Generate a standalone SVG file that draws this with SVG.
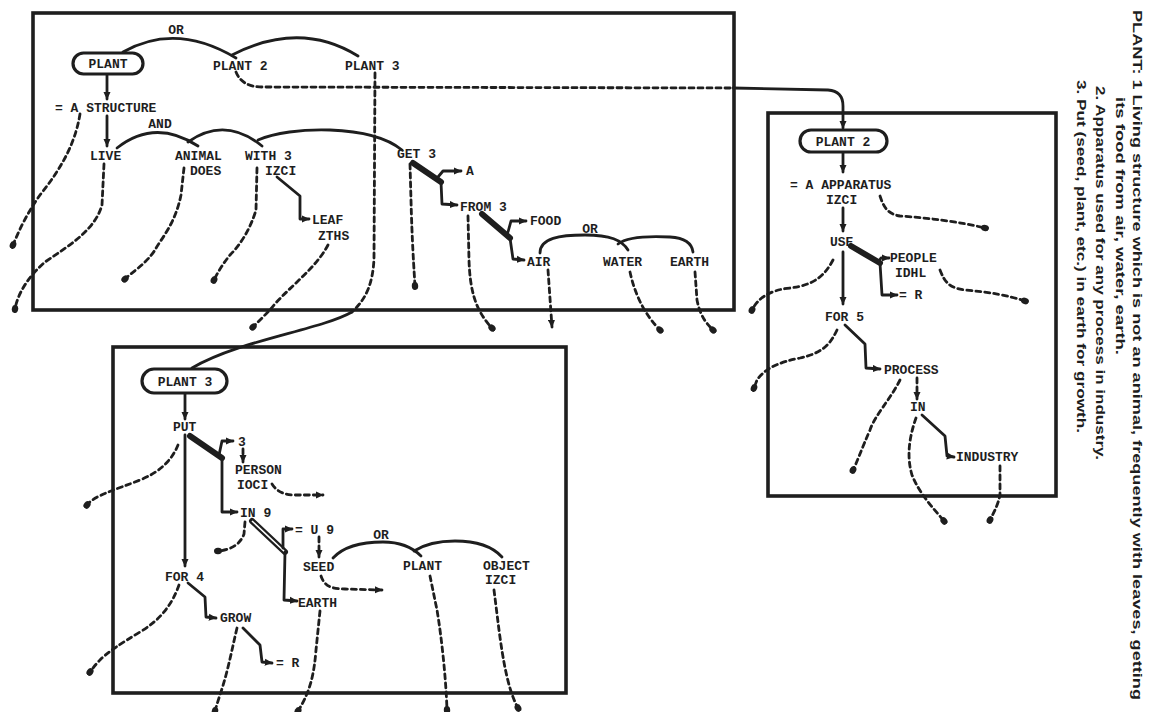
<svg xmlns="http://www.w3.org/2000/svg" width="1156" height="712" viewBox="0 0 1156 712">
<defs>
<style>
.t{font-family:"Liberation Mono","DejaVu Sans Mono",monospace;font-weight:bold;font-size:13px;fill:#1e1e1e}
.m{text-anchor:middle}
.def{font-family:"Liberation Sans","DejaVu Sans",sans-serif;font-weight:bold;font-size:13px;fill:#1e1e1e}
.box{fill:none;stroke:#1e1e1e;stroke-width:3.6}
.ov{fill:#fff;stroke:#1e1e1e;stroke-width:3.2}
.s{fill:none;stroke:#1e1e1e;stroke-width:2.8;stroke-linecap:round;stroke-linejoin:round}
.d{stroke-dasharray:5 4}
.k{stroke-width:6}
.w{fill:none;stroke:#fff;stroke-width:1.6}
</style>
<marker id="ah" viewBox="0 0 10 10" refX="9" refY="5" markerWidth="8" markerHeight="8" markerUnits="userSpaceOnUse" orient="auto"><path d="M0,0.5 L10,5 L0,9.5 Z" fill="#1e1e1e"/></marker>
<marker id="dot" viewBox="0 0 10 10" refX="5" refY="5" markerWidth="8" markerHeight="8" markerUnits="userSpaceOnUse" orient="auto"><ellipse cx="5" cy="5" rx="5" ry="4" fill="#1e1e1e"/></marker>
</defs>
<rect width="1156" height="712" fill="#fff"/>

<g id="frames">
<rect class="box" x="33" y="13" width="701" height="297"/>
<rect class="box" x="113" y="347" width="453" height="346"/>
<rect class="box" x="768" y="113" width="288" height="383"/>
</g>

<g id="connectors">
<!-- plane 1 -->
<path class="s" d="M123,52 Q176,22 236,58"/>
<path class="s" d="M232,55 Q300,20 358,56"/>
<path class="s" d="M107,74 L107,99" marker-end="url(#ah)"/>
<path class="s" d="M107,116 L107,146" marker-end="url(#ah)"/>
<path class="s" d="M117,148 Q155,118 198,146"/>
<path class="s" d="M188,142 Q225,116 262,146"/>
<path class="s" d="M258,140 C290,126 370,124 402,150"/>
<path class="s d" d="M236,72 Q242,87 262,87 L733,88"/>
<path class="s" d="M733,88 L828,90 Q843,91 843,106 L843,128" marker-end="url(#ah)"/>
<path class="s d" d="M375,73 L374,258 C373,285 365,300 352,312"/>
<path class="s" d="M352,312 C320,330 240,340 192,368"/>
<path class="s" d="M277,177 L300,196 L300,219 L309,219" marker-end="url(#ah)"/>
<path class="s d" d="M328,245 C315,270 285,290 270,310 L253,327" marker-end="url(#dot)"/>
<path class="s k" d="M413,163 L441,182"/>
<path class="s" d="M438,177 L443,171 L461,171" marker-end="url(#ah)"/>
<path class="s" d="M441,182 L442,204 L457,205" marker-end="url(#ah)"/>
<path class="s d" d="M410,164 L411,200 C412,240 414,270 415,286" marker-end="url(#dot)"/>
<path class="s k" d="M482,214 L510,238"/>
<path class="s" d="M508,232 L511,221 L526,221" marker-end="url(#ah)"/>
<path class="s" d="M510,238 L513,259 L524,260" marker-end="url(#ah)"/>
<path class="s d" d="M468,216 L469,260 C470,290 475,310 492,328" marker-end="url(#dot)"/>
<path class="s" d="M540,253 C540,238 560,235 585,235 C610,235 622,240 628,250"/>
<path class="s" d="M618,244 C628,236 650,236 670,237 C685,238 692,244 693,252"/>
<path class="s d" d="M548,270 L552,327" marker-end="url(#ah)"/>
<path class="s d" d="M630,272 C635,295 645,315 660,330" marker-end="url(#dot)"/>
<path class="s d" d="M695,272 L697,300 C700,315 705,322 713,330" marker-end="url(#dot)"/>
<path class="s d" d="M80,114 C75,145 60,170 40,195 C28,212 20,228 13,245" marker-end="url(#dot)"/>
<path class="s d" d="M104,164 L102,205 C95,230 70,245 45,262 C30,275 18,292 15,309" marker-end="url(#dot)"/>
<path class="s d" d="M184,168 L181,195 C175,225 160,240 155,250 C145,265 132,272 125,279" marker-end="url(#dot)"/>
<path class="s d" d="M257,168 L256,210 C250,230 240,245 230,255 C222,265 218,272 214,280" marker-end="url(#dot)"/>
<!-- plane 2 -->
<path class="s" d="M843,152 L843,172" marker-end="url(#ah)"/>
<path class="s" d="M843,208 L843,231" marker-end="url(#ah)"/>
<path class="s d" d="M880,196 C884,208 888,214 900,216 C930,218 960,222 985,228" marker-end="url(#dot)"/>
<path class="s k" d="M851,246 L880,263"/>
<path class="s" d="M878,262 L881,258 L889,258" marker-end="url(#ah)"/>
<path class="s" d="M880,263 L882,295 L897,295" marker-end="url(#ah)"/>
<path class="s" d="M843,252 L843,304" marker-end="url(#ah)"/>
<path class="s d" d="M833,260 C825,275 815,285 790,288 C770,290 758,298 752,310" marker-end="url(#dot)"/>
<path class="s d" d="M940,270 C945,283 950,288 965,290 C990,292 1010,296 1025,301" marker-end="url(#dot)"/>
<path class="s" d="M845,325 L865,344 L866,368 L880,369" marker-end="url(#ah)"/>
<path class="s d" d="M837,330 C830,345 822,353 800,358 C780,362 765,368 757,380 L754,388" marker-end="url(#dot)"/>
<path class="s d" d="M900,380 C890,400 875,415 870,430 C862,448 858,460 853,470" marker-end="url(#dot)"/>
<path class="s d" d="M917,378 L917,399" marker-end="url(#ah)"/>
<path class="s" d="M922,415 L945,436 L947,456 L954,457" marker-end="url(#ah)"/>
<path class="s d" d="M916,418 C910,435 906,455 912,475 C920,495 935,510 944,521" marker-end="url(#dot)"/>
<path class="s d" d="M1000,466 L1000,495 C998,505 994,512 990,520" marker-end="url(#dot)"/>
<!-- plane 3 -->
<path class="s" d="M185,393 L185,419" marker-end="url(#ah)"/>
<path class="s" d="M185,435 L185,566" marker-end="url(#ah)"/>
<path class="s k" d="M190,436 L222,458"/>
<path class="s" d="M219,455 L222,441 L233,441" marker-end="url(#ah)"/>
<path class="s d" d="M243,449 L243,462" marker-end="url(#ah)"/>
<path class="s" d="M222,458 L222,512 L237,512" marker-end="url(#ah)"/>
<path class="s d" d="M272,484 C277,492 285,495 295,495 L323,495" marker-end="url(#ah)"/>
<path class="s d" d="M178,445 C172,460 160,472 140,480 C115,490 95,495 87,505" marker-end="url(#dot)"/>
<path class="s d" d="M245,522 L244,534 C240,545 230,550 218,551" marker-end="url(#dot)"/>
<path class="s k" d="M252,521 L285,552"/>
<path class="w" d="M252,521 L285,552"/>
<path class="s" d="M283,548 L283,529 L292,529" marker-end="url(#ah)"/>
<path class="s" d="M285,552 L284,600 L297,601" marker-end="url(#ah)"/>
<path class="s d" d="M319,537 L319,557" marker-end="url(#ah)"/>
<path class="s d" d="M321,576 C324,585 330,589 345,589 L382,590" marker-end="url(#ah)"/>
<path class="s" d="M333,558 C345,545 365,542 383,542 C400,542 412,547 421,556"/>
<path class="s" d="M414,551 C425,544 440,541 455,541 C475,541 492,546 502,557"/>
<path class="s d" d="M430,576 L437,610 C442,640 446,680 447,710" marker-end="url(#dot)"/>
<path class="s d" d="M494,590 L499,630 C503,660 508,690 518,708" marker-end="url(#dot)"/>
<path class="s d" d="M320,611 L316,650 C314,675 310,692 298,711" marker-end="url(#dot)"/>
<path class="s" d="M188,583 L205,597 L206,617 L216,618" marker-end="url(#ah)"/>
<path class="s d" d="M179,585 C172,605 160,620 140,632 C120,644 108,652 100,660 C96,664 93,668 90,672" marker-end="url(#dot)"/>
<path class="s" d="M243,628 L260,645 L262,662 L272,663" marker-end="url(#ah)"/>
<path class="s d" d="M237,628 C233,645 230,660 226,675 C222,690 218,700 215,711" marker-end="url(#dot)"/>
</g>

<!-- plane 1 nodes -->
<g id="n-plant"><rect class="ov" x="73" y="53" width="70" height="21" rx="10.5"/><text class="t m" x="108" y="68">PLANT</text></g>
<g id="n-or1"><text class="t m" x="176" y="34">OR</text></g>
<g id="n-plant2"><text class="t" x="213" y="70">PLANT 2</text></g>
<g id="n-plant3"><text class="t" x="345" y="70">PLANT 3</text></g>
<g id="n-structure"><text class="t" x="55" y="112">= A STRUCTURE</text></g>
<g id="n-and"><text class="t m" x="160" y="128">AND</text></g>
<g id="n-live"><text class="t" x="90" y="160">LIVE</text></g>
<g id="n-animal"><text class="t" x="175" y="160">ANIMAL</text><text class="t" x="190" y="175">DOES</text></g>
<g id="n-with3"><text class="t" x="245" y="160">WITH 3</text><text class="t" x="265" y="175">IZCI</text></g>
<g id="n-leaf"><text class="t" x="312" y="224">LEAF</text><text class="t" x="318" y="240">ZTHS</text></g>
<g id="n-get3"><text class="t" x="397" y="158">GET 3</text></g>
<g id="n-a"><text class="t" x="466" y="175">A</text></g>
<g id="n-from3"><text class="t" x="460" y="211">FROM 3</text></g>
<g id="n-food"><text class="t" x="530" y="225">FOOD</text></g>
<g id="n-or2"><text class="t m" x="590" y="233">OR</text></g>
<g id="n-air"><text class="t" x="527" y="266">AIR</text></g>
<g id="n-water"><text class="t" x="603" y="266">WATER</text></g>
<g id="n-earth"><text class="t" x="670" y="266">EARTH</text></g>

<!-- plane 2 nodes -->
<g id="n-p2"><rect class="ov" x="800" y="130" width="87" height="22" rx="11"/><text class="t m" x="843" y="146">PLANT 2</text></g>
<g id="n-apparatus"><text class="t" x="790" y="189">= A APPARATUS</text><text class="t" x="826" y="204">IZCI</text></g>
<g id="n-use"><text class="t" x="830" y="246">USE</text></g>
<g id="n-people"><text class="t" x="890" y="262">PEOPLE</text><text class="t" x="895" y="277">IDHL</text></g>
<g id="n-r1"><text class="t" x="899" y="299">= R</text></g>
<g id="n-for5"><text class="t" x="825" y="321">FOR 5</text></g>
<g id="n-process"><text class="t" x="884" y="374">PROCESS</text></g>
<g id="n-in"><text class="t" x="910" y="411">IN</text></g>
<g id="n-industry"><text class="t" x="956" y="461">INDUSTRY</text></g>

<!-- plane 3 nodes -->
<g id="n-p3"><rect class="ov" x="142" y="369" width="85" height="24" rx="12"/><text class="t m" x="185" y="386">PLANT 3</text></g>
<g id="n-put"><text class="t" x="173" y="431">PUT</text></g>
<g id="n-3"><text class="t" x="238" y="446">3</text></g>
<g id="n-person"><text class="t" x="235" y="474">PERSON</text><text class="t" x="237" y="489">IOCI</text></g>
<g id="n-in9"><text class="t" x="240" y="517">IN 9</text></g>
<g id="n-u9"><text class="t" x="295" y="534">= U 9</text></g>
<g id="n-seed"><text class="t" x="303" y="571">SEED</text></g>
<g id="n-or3"><text class="t m" x="381" y="539">OR</text></g>
<g id="n-plantb"><text class="t" x="403" y="570">PLANT</text></g>
<g id="n-object"><text class="t" x="483" y="570">OBJECT</text><text class="t" x="485" y="584">IZCI</text></g>
<g id="n-earthb"><text class="t" x="298" y="607">EARTH</text></g>
<g id="n-for4"><text class="t" x="165" y="581">FOR 4</text></g>
<g id="n-grow"><text class="t" x="220" y="622">GROW</text></g>
<g id="n-r2"><text class="t" x="276" y="667">= R</text></g>

<g id="definition">
<text class="def" transform="translate(1132.5,10) rotate(90)" textLength="690" lengthAdjust="spacingAndGlyphs">PLANT: 1 Living structure which is not an animal, frequently with leaves, getting</text>
<text class="def" transform="translate(1115.5,97) rotate(90)" textLength="258" lengthAdjust="spacingAndGlyphs">its food from air, water, earth.</text>
<text class="def" transform="translate(1096,86) rotate(90)" textLength="374" lengthAdjust="spacingAndGlyphs">2. Apparatus used for any process in industry.</text>
<text class="def" transform="translate(1077,80) rotate(90)" textLength="353" lengthAdjust="spacingAndGlyphs">3. Put (seed, plant, etc.) in earth for growth.</text>
</g>
</svg>
